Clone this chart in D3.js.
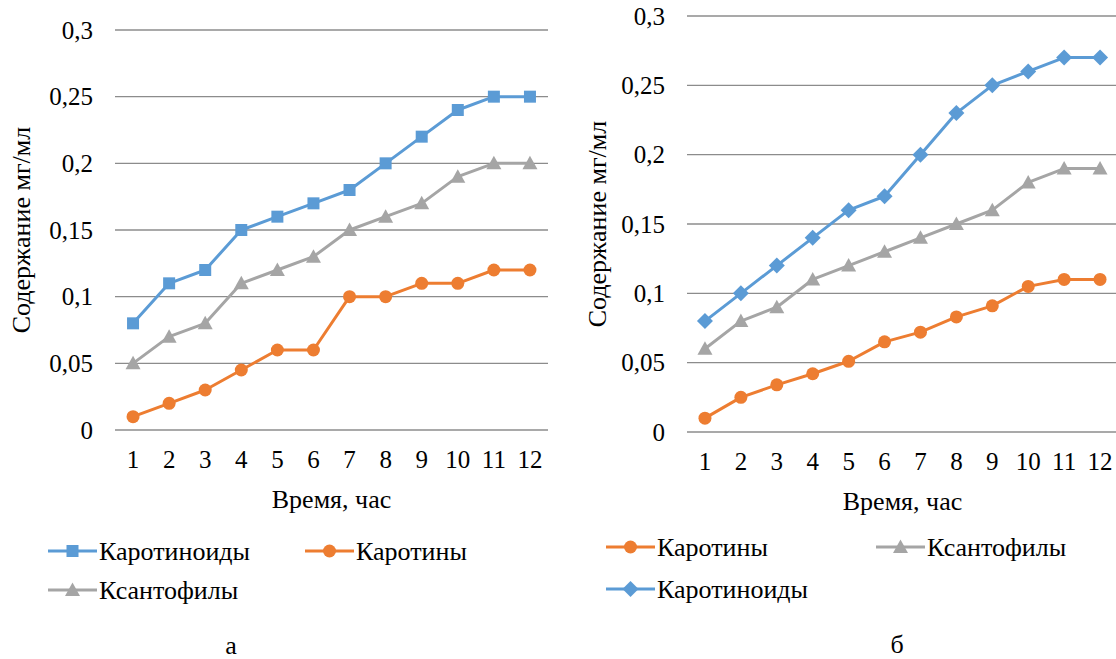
<!DOCTYPE html>
<html>
<head>
<meta charset="utf-8">
<script src="https://cdn.jsdelivr.net/npm/d3@7"></script>
<style>
  body { margin: 0; background: #fff; }
</style>
</head>
<body>
<svg id="chart" width="1116" height="659" font-family="'Liberation Serif', 'Times New Roman', serif"></svg>
<script>
const hours = [1, 2, 3, 4, 5, 6, 7, 8, 9, 10, 11, 12]
const yTicks = [0, 0.05, 0.1, 0.15, 0.2, 0.25, 0.3]

// chart а
const carotenoidsA = [0.08, 0.11, 0.12, 0.15, 0.16, 0.17, 0.18, 0.2, 0.22, 0.24, 0.25, 0.25]
const carotenesA = [0.01, 0.02, 0.03, 0.045, 0.06, 0.06, 0.1, 0.1, 0.11, 0.11, 0.12, 0.12]
const xanthophyllsA = [0.05, 0.07, 0.08, 0.11, 0.12, 0.13, 0.15, 0.16, 0.17, 0.19, 0.2, 0.2]

// chart б
const carotenoidsB = [0.08, 0.1, 0.12, 0.14, 0.16, 0.17, 0.2, 0.23, 0.25, 0.26, 0.27, 0.27]
const carotenesB = [0.01, 0.025, 0.034, 0.042, 0.051, 0.065, 0.072, 0.083, 0.091, 0.105, 0.11, 0.11]
const xanthophyllsB = [0.06, 0.08, 0.09, 0.11, 0.12, 0.13, 0.14, 0.15, 0.16, 0.18, 0.19, 0.19]

const BLUE = "#5B9BD5", ORANGE = "#ED7D31", GRAY = "#A5A5A5"
const FONT = "'Liberation Serif', 'Times New Roman', serif"
const FS = 25
const fmt = d => String(d).replace(".", ",")

const svg = d3.select("#chart")

function marker(g, shape, color, cx, cy) {
  if (shape === "square") {
    g.append("rect").attr("x", cx - 6).attr("y", cy - 6).attr("width", 12).attr("height", 12).attr("fill", color)
  } else if (shape === "circle") {
    g.append("circle").attr("cx", cx).attr("cy", cy).attr("r", 6.5).attr("fill", color)
  } else if (shape === "triangle") {
    g.append("path").attr("d", `M${cx},${cy - 7.5}L${cx + 7.5},${cy + 6}L${cx - 7.5},${cy + 6}Z`).attr("fill", color)
  } else {
    g.append("path").attr("d", `M${cx},${cy - 8}L${cx + 8},${cy}L${cx},${cy + 8}L${cx - 8},${cy}Z`).attr("fill", color)
  }
}

function drawChart(cfg) {
  const g = svg.append("g").attr("font-family", FONT).attr("fill", "#000")
  const x = d3.scaleBand().domain(hours).range([cfg.left, cfg.right])
  const y = d3.scaleLinear().domain([0, 0.3]).range([cfg.bottom, cfg.top])
  const cx = d => x(d) + x.bandwidth() / 2

  // gridlines
  g.selectAll(".grid").data(yTicks).enter().append("line")
    .attr("x1", cfg.left).attr("x2", cfg.right)
    .attr("y1", d => y(d)).attr("y2", d => y(d))
    .attr("stroke", "#8c8c8c").attr("stroke-width", 1.3)

  // y tick labels
  g.selectAll(".ylab").data(yTicks).enter().append("text")
    .attr("x", cfg.left - 22).attr("y", d => y(d) + 8.5)
    .attr("text-anchor", "end").attr("font-size", FS)
    .text(fmt)

  // x tick labels
  g.selectAll(".xlab").data(hours).enter().append("text")
    .attr("x", d => cx(d)).attr("y", cfg.bottom + 38)
    .attr("text-anchor", "middle").attr("font-size", FS)
    .text(d => d)

  // axis titles
  g.append("text")
    .attr("transform", `translate(${cfg.ytitleX},${(cfg.top + cfg.bottom) / 2}) rotate(-90)`)
    .attr("text-anchor", "middle").attr("font-size", 26)
    .text("Содержание мг/мл")
  g.append("text")
    .attr("x", (cfg.left + cfg.right) / 2).attr("y", cfg.bottom + 78)
    .attr("text-anchor", "middle").attr("font-size", 26)
    .text("Время, час")

  const line = d3.line().x((d, i) => cx(hours[i])).y(d => y(d))

  cfg.series.forEach(s => {
    g.append("path").datum(s.values)
      .attr("d", line).attr("fill", "none")
      .attr("stroke", s.color).attr("stroke-width", 3).attr("stroke-linejoin", "round")
    s.values.forEach((v, i) => marker(g, s.shape, s.color, cx(hours[i]), y(v)))
  })

  // legend
  cfg.legend.forEach(l => {
    const s = cfg.series.find(d => d.name === l.name)
    g.append("line").attr("x1", l.x).attr("x2", l.x + 49).attr("y1", l.y).attr("y2", l.y)
      .attr("stroke", s.color).attr("stroke-width", 3)
    marker(g, s.shape, s.color, l.x + 24.5, l.y)
    g.append("text").attr("x", l.x + 51).attr("y", l.y + 8.5).attr("font-size", 26).text(s.name)
  })

  g.append("text").attr("x", cfg.labelX).attr("y", cfg.labelY)
    .attr("text-anchor", "middle").attr("font-size", 26).text(cfg.label)
}

drawChart({
  left: 115, right: 548, top: 30, bottom: 430, ytitleX: 30,
  series: [
    { name: "Каротиноиды", values: carotenoidsA, color: BLUE, shape: "square" },
    { name: "Ксантофилы", values: xanthophyllsA, color: GRAY, shape: "triangle" },
    { name: "Каротины", values: carotenesA, color: ORANGE, shape: "circle" }
  ],
  legend: [
    { name: "Каротиноиды", x: 48, y: 551 },
    { name: "Каротины", x: 305, y: 551 },
    { name: "Ксантофилы", x: 48, y: 590 }
  ],
  label: "а", labelX: 231, labelY: 654
})

drawChart({
  left: 687, right: 1118, top: 16, bottom: 432, ytitleX: 606,
  series: [
    { name: "Каротиноиды", values: carotenoidsB, color: BLUE, shape: "diamond" },
    { name: "Ксантофилы", values: xanthophyllsB, color: GRAY, shape: "triangle" },
    { name: "Каротины", values: carotenesB, color: ORANGE, shape: "circle" }
  ],
  legend: [
    { name: "Каротины", x: 606, y: 547 },
    { name: "Ксантофилы", x: 876, y: 547 },
    { name: "Каротиноиды", x: 606, y: 589 }
  ],
  label: "б", labelX: 897, labelY: 653
})
</script>
</body>
</html>
